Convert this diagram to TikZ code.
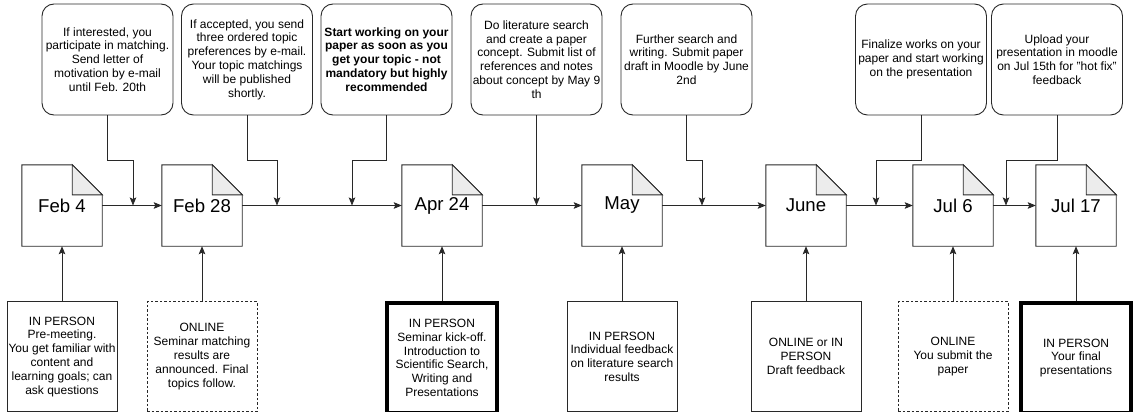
\documentclass[tikz,border=0pt]{standalone}
\usepackage{fontspec}
\setmainfont{Liberation Sans}
\usepackage{tikz}
\usetikzlibrary{arrows.meta, positioning}
\definecolor{linegray}{RGB}{40, 40, 40}
\definecolor{foldgray}{RGB}{236, 236, 236}

\begin{document}
\begin{tikzpicture}[
    x=1pt, y=1pt,
    node distance=55pt,
    every node/.style={font=\fontsize{12}{13.8}\selectfont, align=center, inner sep=1pt},
    doc/.style={minimum width=80pt, minimum height=81pt, font=\fontsize{18.6}{20}\selectfont},
    docline/.style={draw=linegray, line width=0.9pt, line join=miter},
    note/.style={draw=linegray, rounded corners=12pt, minimum width=131pt, minimum height=111pt, line width=0.9pt},
    evt/.style={draw=linegray, minimum width=110pt, minimum height=110pt, line width=0.9pt},
    evtdash/.style={evt, dash pattern=on 2.5pt off 2pt},
    evtbold/.style={evt, draw=black, line width=3.5pt},
    arr/.style={-{Stealth[length=8pt, width=6.5pt, inset=1.5pt]}, line width=0.9pt, color=linegray}
]
\useasboundingbox (0,0) rectangle (1136,-412);

% Timeline: dates
\node[doc] (feb4)  at (62,-205.5)   {Feb 4};
\node[doc] (feb28) at (202,-205.5)  {Feb 28};
\node[doc] (apr24) at (442,-205.5)  {Apr 24};
\node[doc] (may)   at (622,-205.5)  {May};
\node[doc] (june)  at (806,-205.5)  {June};
\node[doc] (jul6)  at (953,-205.5)  {Jul 6};
\node[doc] (jul17) at (1076,-205.5) {Jul 17};

\foreach \d in {feb4,feb28,apr24,may,june,jul6,jul17} {
  \draw[docline] (\d.north west) -- ([xshift=-30pt]\d.north east) -- ([yshift=-30pt]\d.north east) -- (\d.south east) -- (\d.south west) -- cycle;
  \draw[docline, fill=foldgray] ([xshift=-30pt]\d.north east) -- ([xshift=-30pt, yshift=-30pt]\d.north east) -- ([yshift=-30pt]\d.north east) -- cycle;
}

% Top row: what to do
\node[note] (n1) at (107.5,-59.5) {If interested, you\\participate in matching.\\Send letter of\\motivation by e-mail\\until Feb. 20th};
\node[note] (n2) at (247,-59.5) {If accepted, you send\\three ordered topic\\preferences by e-mail.\\Your topic matchings\\will be published\\shortly.};
\node[note, font=\fontsize{12}{13.8}\selectfont\bfseries] (n3) at (386.5,-59.5) {Start working on your\\paper as soon as you\\get your topic - not\\mandatory but highly\\recommended};
\node[note] (n4) at (536.5,-59.5) {Do literature search\\and create a paper\\concept. Submit list of\\references and notes\\about concept by May 9\\th};
\node[note] (n5) at (686.5,-59.5) {Further search and\\writing. Submit paper\\draft in Moodle by June\\2nd};
\node[note] (n6) at (921,-59.5) {Finalize works on your\\paper and start working\\on the presentation};
\node[note] (n7) at (1057,-59.5) {Upload your\\presentation in moodle\\on Jul 15th for "hot fix"\\feedback};

% Bottom row: meetings
\node[evt, below=of feb4] (b1) {IN PERSON\\Pre-meeting.\\You get familiar with\\content and\\learning goals; can\\ask questions};
\node[evtdash, below=of feb28] (b2) {ONLINE\\Seminar matching\\results are\\announced. Final\\topics follow.};
\node[evtbold, below=of apr24] (b3) {IN PERSON\\Seminar kick-off.\\Introduction to\\Scientific Search,\\Writing and\\Presentations};
\node[evt, below=of may] (b4) {IN PERSON\\Individual feedback\\on literature search\\results};
\node[evt, below=of june] (b5) {ONLINE or IN\\PERSON\\Draft feedback};
\node[evtdash, below=of jul6] (b6) {ONLINE\\You submit the\\paper};
\node[evtbold, below=of jul17] (b7) {IN PERSON\\Your final\\presentations};

% Where the notes join the timeline
\coordinate (m1) at (133,-205.5);
\coordinate (m2) at (277,-205.5);
\coordinate (m3) at (352,-205.5);
\coordinate (m4) at (536.5,-205.5);
\coordinate (m5) at (702,-205.5);
\coordinate (m6) at (876,-205.5);
\coordinate (m7) at (1006,-205.5);

% Connectors
\draw[arr] (feb4) -- (feb28);
\draw[arr] (feb28) -- (apr24);
\draw[arr] (apr24) -- (may);
\draw[arr] (may) -- (june);
\draw[arr] (june) -- (jul6);
\draw[arr] (jul6) -- (jul17);

\draw[arr] (n1.south) -- ++(0,-45) -| (m1);
\draw[arr] (n2.south) -- ++(0,-45) -| (m2);
\draw[arr] (n3.south) -- ++(0,-45) -| (m3);
\draw[arr] (n4.south) -- (m4);
\draw[arr] (n5.south) -- ++(0,-45) -| (m5);
\draw[arr] (n6.south) -- ++(0,-45) -| (m6);
\draw[arr] (n7.south) -- ++(0,-45) -| (m7);

\draw[arr] (b1) -- (feb4);
\draw[arr] (b2) -- (feb28);
\draw[arr] (b3) -- (apr24);
\draw[arr] (b4) -- (may);
\draw[arr] (b5) -- (june);
\draw[arr] (b6) -- (jul6);
\draw[arr] (b7) -- (jul17);

\end{tikzpicture}
\end{document}
